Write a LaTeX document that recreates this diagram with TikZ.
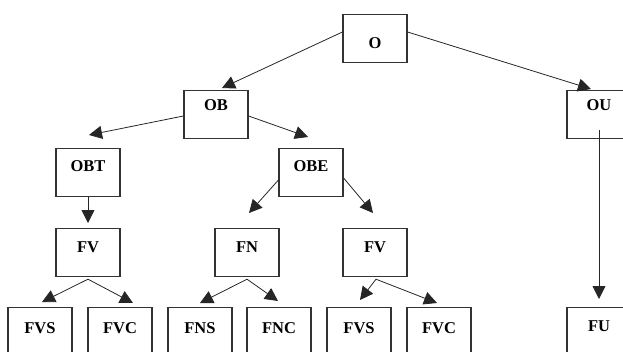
\documentclass[tikz,border=0pt]{standalone}
\usepackage{fontspec}
\setmainfont{Liberation Serif}
\usetikzlibrary{arrows.meta,calc}

\begin{document}
\begin{tikzpicture}[x=1pt,y=-1pt,
  % box with its label set near the top edge; the argument is the baseline depth below the top
  box/.style={draw=black!80, line width=1.2pt, fill=white, inner sep=0pt,
    minimum width=64pt, text height=#1, text depth=48pt-#1,
    font=\fontsize{16.5}{18}\selectfont\bfseries, anchor=north},
  box/.default=23pt,
  arr/.style={draw=black!85, line width=0.8pt,
    -{Triangle[length=13pt,width=13pt]}}]

\useasboundingbox (0,0) rectangle (623,351);

% level 0 and 1
\node[box=34pt] (O)  at (375,14) {O};
\node[box=20pt] (OB) at (216,90) {OB};
\node[box=20pt] (OU) at (599,90) {OU};

% level 2
\node[box] (OBT) at (88,148)  {OBT};
\node[box] (OBE) at (311,148) {OBE};

% level 3
\node[box=24pt] (FVa) at (88,228)  {FV};
\node[box=24pt] (FN)  at (247,228) {FN};
\node[box=24pt] (FVb) at (375,228) {FV};

% level 4 (leaves)
\node[box=26pt] (FVSa) at (40,307)  {FVS};
\node[box=26pt] (FVCa) at (120,307) {FVC};
\node[box=26pt] (FNS)  at (200,307) {FNS};
\node[box=26pt] (FNC)  at (279,307) {FNC};
\node[box=26pt] (FVSb) at (359,307) {FVS};
\node[box=26pt] (FVCb) at (439,307) {FVC};
\node[box=24pt] (FU)   at (599,307) {FU};

% connectors
\draw[arr] ($(O.north west)+(0,18)$) -- ($(OB.north)+(6,-2)$);
\draw[arr] ($(O.north east)+(0,18)$) -- ($(OU.north)+(-8,-1)$);

\draw[arr] ($(OB.north west)+(0,26)$) -- ($(OBT.north)+(1,-13)$);
\draw[arr] ($(OB.north east)+(0,26)$) -- ($(OBE.north)+(-3,-11)$);

\draw[arr] (OBT.south) -- ($(FVa.north)+(0,-5)$);
\draw[arr] ($(OBE.north west)+(0,32)$) -- ($(FN.north)+(2,-15)$);
\draw[arr] ($(OBE.north east)+(0,30)$) -- ($(FVb.north)+(-2,-15)$);

\draw[arr] ($(FVa.south)+(0,2)$) -- ($(FVSa.north)+(2,-5)$);
\draw[arr] ($(FVa.south)+(0,2)$) -- ($(FVCa.north)+(13,-4)$);
\draw[arr] ($(FN.south)+(0,2)$) -- ($(FNS.north)+(0,-4)$);
\draw[arr] ($(FN.south)+(0,2)$) -- ($(FNC.north)+(-1,-6)$);
\draw[arr] ($(FVb.south)+(1,2)$) -- ($(FVSb.north)+(1,-7)$);
\draw[arr] ($(FVb.south)+(1,2)$) -- ($(FVCb.north)+(-2,-4)$);

\coordinate (OUstem) at ($(OU.north)+(0,40)$);
\draw[arr] (OUstem) -- ($(FU.north)+(0,-8)$);

\end{tikzpicture}
\end{document}
